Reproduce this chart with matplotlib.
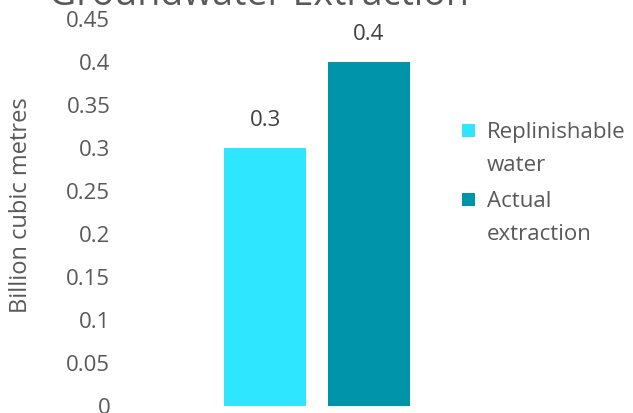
import matplotlib.pyplot as plt
from matplotlib.patches import Rectangle

plt.rcParams['font.family'] = ['Open Sans', 'DejaVu Sans']

# groundwater figures, billion cubic metres
series = ['Replinishable\nwater', 'Actual\nextraction']
values = [0.3, 0.4]
colors = ['#2EE6FF', '#0094AA']
yticks = [0, 0.05, 0.1, 0.15, 0.2, 0.25, 0.3, 0.35, 0.4, 0.45]
ytick_labels = ['0', '0.05', '0.1', '0.15', '0.2', '0.25', '0.3', '0.35', '0.4', '0.45']
title = 'Groundwater Extraction'
ylabel = 'Billion cubic metres'

text_color = '#595959'

fig = plt.figure(figsize=(6.33, 4.13), dpi=100)
W, H = 633, 413
# plot area in pixels: left, bottom, width, height
ax = fig.add_axes([120 / W, (H - 406) / H, 300 / W, 387 / H])

xs = range(len(values))
bars = ax.bar(xs, values, width=0.79, color=colors)
for x, v in zip(xs, values):
    ax.annotate(f'{v:g}', (x, v), xytext=(0, 16), textcoords='offset points',
                ha='center', va='baseline', fontsize=16, color='#404040')

ax.set_xlim(-1.394, 1.49)
ax.set_ylim(0, 0.45)
ax.set_yticks(yticks)
ax.set_yticklabels(ytick_labels, fontsize=16, color=text_color)
ax.set_xticks([])
ax.tick_params(axis='y', length=0, pad=7)
for s in ax.spines.values():
    s.set_visible(False)

ax.set_ylabel(ylabel, fontsize=17, color=text_color)
ax.yaxis.set_label_coords(-(120 - 33) / 300, (406 - 205) / 387)

fig.text(259 / W, 1 - 5 / H, title, ha='center', va='baseline',
         fontsize=27, color=text_color)

# legend: square key level with the first line of each wrapped label
baselines = [138, 207]
line_step = 33
for label, c, yb in zip(series, colors, baselines):
    fig.add_artist(Rectangle((462 / W, 1 - (yb - 1) / H), 13 / W, 13 / H,
                             transform=fig.transFigure, facecolor=c, edgecolor='none'))
    for k, line in enumerate(label.split('\n')):
        fig.text(487 / W, 1 - (yb + k * line_step) / H, line, ha='left', va='baseline',
                 fontsize=16, color=text_color)

fig.savefig('out.png', dpi=100)
